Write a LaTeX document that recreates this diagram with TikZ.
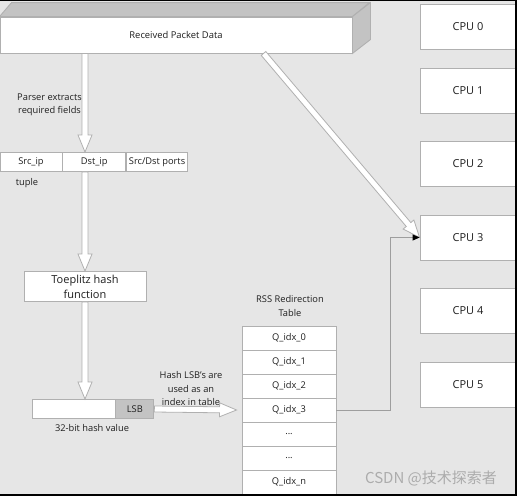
\documentclass[tikz,border=0pt]{standalone}
\usepackage{fontspec}
\setmainfont{Open Sans}
\newfontfamily\cjkfont{Noto Sans CJK SC}
\usetikzlibrary{calc,arrows.meta,positioning}

\definecolor{canvas}{HTML}{E6E6E6}
\definecolor{edge}{HTML}{B0B0B0}
\definecolor{shade}{HTML}{C3C3C3}
\definecolor{ink}{HTML}{1E1E1E}

\tikzset{
  box/.style={draw=edge, fill=white, line width=0.9pt, inner sep=0pt, text=ink},
  cpubox/.style={box, minimum width=96pt, minimum height=45pt, font=\fontsize{11}{13}\selectfont},
  cell/.style={box, minimum height=19pt, font=\fontsize{9.3}{11}\selectfont},
  row/.style={box, minimum width=94pt, minimum height=24pt, font=\fontsize{9.3}{11}\selectfont},
  note/.style={text=ink, align=center, inner sep=0pt, font=\fontsize{9.3}{13.5}\selectfont},
  hollow/.style={draw=edge, fill=white, line width=0.8pt, line join=miter},
  link/.style={draw=edge!90!black, line width=0.9pt}
}

% fat open arrow from #1 to #2
\newcommand\hollowarrow[2]{%
  \path[hollow] let \p1=($(#2)-(#1)$), \n1={veclen(\x1,\y1)}, \n2={atan2(\y1,\x1)} in
    [shift={(#1)}, rotate=\n2]
    (0pt,-3pt) -- (\n1*1pt-17pt,-3pt) -- (\n1*1pt-17pt,-7pt) -- (\n1*1pt,0pt)
    -- (\n1*1pt-17pt,7pt) -- (\n1*1pt-17pt,3pt) -- (0pt,3pt) -- cycle;}

\begin{document}
\begin{tikzpicture}[x=1pt, y=-1pt]
  \useasboundingbox (0,0) rectangle (517,496);
  \fill[canvas] (0,0) rectangle (517,496);

  % received packet, drawn as a slab
  \node[box, minimum width=352pt, minimum height=36pt, font=\fontsize{9.4}{11}\selectfont]
    (pkt) at (176,35) {Received Packet Data};
  \filldraw[draw=edge, fill=shade, line width=0.9pt]
    (pkt.north west) -- ++(12,-14) -- ++(358,0) -- (pkt.north east) -- cycle;
  \filldraw[draw=edge, fill=shade, line width=0.9pt]
    (pkt.north east) -- ++(18,-14) -- ++(0,37) -- (pkt.south east) -- cycle;

  % cpus
  \foreach \y [count=\i from 0] in {27,90.5,164,237.5,311,384.5}
    \node[cpubox] (cpu\i) at (468,\y) {CPU \i};

  % 5-tuple
  \node[cell, minimum width=62pt] (src) at (31,162) {Src\_ip};
  \node[cell, minimum width=62.5pt, right=0pt of src] (dst) {Dst\_ip};
  \node[cell, minimum width=61.5pt, right=0pt of dst] (ports) {Src/Dst ports};
  \node[note] (tuplelbl) at (27,183) {tuple};
  \node[note, anchor=east] (parselbl) at (82,105) {Parser extracts\\required fields};

  % hash stage
  \node[box, minimum width=122pt, minimum height=30pt, align=center,
        font=\fontsize{11}{15}\selectfont] (toep) at (85,286.5) {Toeplitz hash\\function};
  \node[box, minimum width=83pt, minimum height=19pt] (hash) at (73.5,409) {};
  \node[box, fill=shade, minimum width=38pt, minimum height=19pt,
        font=\fontsize{9.3}{11}\selectfont, right=0pt of hash] (lsb) {LSB};
  \node[note] (hashlbl) at (92,428) {32-bit hash value};
  \node[note] (idxlbl) at (191,389) {Hash LSB's are\\used as an\\index in table};

  % redirection table
  \node[note] (tablbl) at (290,306) {RSS Redirection\\Table};
  \foreach \t [count=\i from 0] in {Q\_idx\_0,Q\_idx\_1,Q\_idx\_2,Q\_idx\_3,.{}.{}.,.{}.{}.,Q\_idx\_n}
    \node[row] (q\i) at (289,338+24*\i) {\t};

  % open arrows
  \coordinate (pktout) at (pkt.south -| toep.north);
  \coordinate (pktside) at ($(pkt.south west)!0.748!(pkt.south east)$);
  \coordinate (hashin) at (hash.north -| toep.north);
  \coordinate (tupleout) at (dst.south -| toep.north);
  \coordinate (tablein) at ($(q3.west)+(-5,0)$);
  \hollowarrow{pktout}{dst.north -| toep.north}
  \hollowarrow{tupleout}{toep.north}
  \hollowarrow{toep.south}{hashin}
  \hollowarrow{lsb.east}{tablein}
  \hollowarrow{pktside}{cpu3.west}

  % table entry to cpu
  \draw[link, -{Triangle[color=black, length=7pt, width=6pt]}]
    (q3.east) -- ++(54,0) |- (cpu3.west);

  % screen edges
  \fill[black] (0,0) rectangle (517,1);
  \fill[black] (515,0) rectangle (517,496);
  \fill[black] (0,494) rectangle (517,496);

  \node[text=gray!65, font=\cjkfont\fontsize{15}{17}\selectfont, inner sep=0pt]
    (mark) at (431,478) {CSDN @技术探索者};
\end{tikzpicture}
\end{document}
